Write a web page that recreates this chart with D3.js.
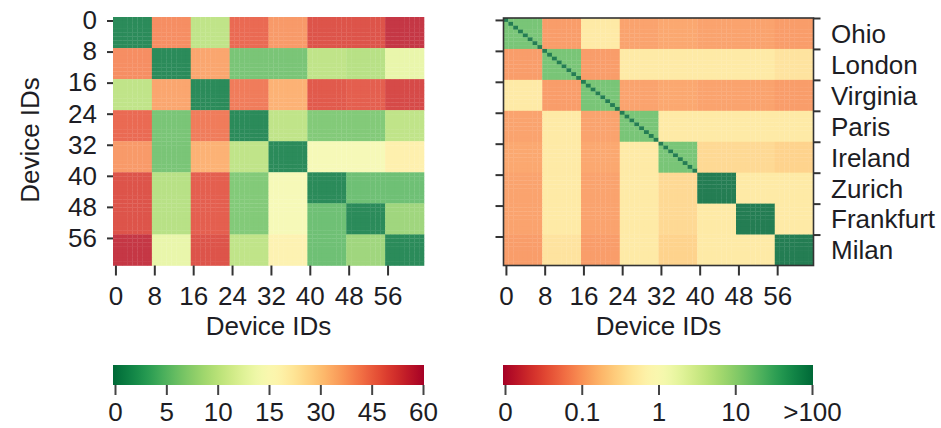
<!DOCTYPE html>
<html>
<head>
<meta charset="utf-8">
<script src="https://cdn.jsdelivr.net/npm/d3@7"></script>
<style>
  body { margin: 0; background: #fff; }
  svg text { font-family: "Liberation Sans", Arial, sans-serif; fill: #1d1d24; }
</style>
</head>
<body>
<div id="chart"></div>
<script>
// regions, 8 devices each
const regions = ["Ohio", "London", "Virginia", "Paris", "Ireland", "Zurich", "Frankfurt", "Milan"];
const devicesPerRegion = 8;
const deviceTicks = [0, 8, 16, 24, 32, 40, 48, 56];

// left panel: latency between regions (ms)
const latency = [
  [1, 40, 10, 46, 38, 50, 50, 56],
  [40, 1, 36, 6, 6, 10, 9.5, 13],
  [10, 36, 1, 43, 34, 49, 48, 52],
  [46, 6, 43, 1, 10, 6.5, 6.5, 10],
  [38, 6, 34, 10, 1, 14.5, 14.5, 20],
  [50, 9.5, 48, 6.5, 14.5, 1, 5.5, 5.5],
  [50, 9.5, 48, 6.5, 14.5, 5.5, 1, 8],
  [56, 13, 50, 10, 19, 5.5, 8, 1]
];

// right panel: bandwidth between regions (log scale), device to itself
const bandwidth = [
  [16, 0.1, 0.5, 0.11, 0.12, 0.11, 0.11, 0.1],
  [0.1, 16, 0.1, 0.5, 0.5, 0.5, 0.5, 0.42],
  [0.5, 0.1, 16, 0.11, 0.12, 0.11, 0.11, 0.1],
  [0.11, 0.5, 0.11, 16, 0.5, 0.5, 0.5, 0.5],
  [0.12, 0.5, 0.12, 0.5, 16, 0.32, 0.32, 0.28],
  [0.11, 0.5, 0.11, 0.5, 0.32, 200, 0.5, 0.5],
  [0.11, 0.5, 0.11, 0.5, 0.32, 0.5, 200, 0.5],
  [0.1, 0.42, 0.1, 0.5, 0.28, 0.5, 0.5, 200]
];
const selfBandwidth = 200;

const latTicks = [0, 5, 10, 15, 30, 45, 60];
const bwTicks = [0.01, 0.1, 1, 10, 100];
const bwTickLabels = ["0", "0.1", "1", "10", ">100"];

const W = 941, H = 428;
const FS = 26;
const nDev = regions.length * devicesPerRegion;

const svg = d3.select("#chart").append("svg")
  .attr("width", W).attr("height", H);

// colour helpers
const latPos = d3.scaleLinear().domain(latTicks).range(latTicks.map((d, i) => i / (latTicks.length - 1))).clamp(true);
const bwPos = d3.scaleLog().domain([bwTicks[0], bwTicks[bwTicks.length - 1]]).range([0, 1]).clamp(true);
const latColor = v => d3.interpolateRdYlGn(1 - latPos(v));
const bwColor = v => d3.interpolateRdYlGn(bwPos(v));
const soften = c => d3.interpolateRgb("#ffffff", c)(0.86);

// build device x device cells from region matrix
function cells(matrix, selfVal) {
  const out = [];
  for (let i = 0; i < nDev; i++) {
    for (let j = 0; j < nDev; j++) {
      const ri = Math.floor(i / devicesPerRegion), rj = Math.floor(j / devicesPerRegion);
      let v = matrix[ri][rj];
      if (i === j && selfVal != null) v = selfVal;
      out.push({ i, j, v });
    }
  }
  return out;
}

function heatmap(opts) {
  const x = d3.scaleLinear().domain([0, nDev]).range([opts.x0, opts.x1]);
  const y = d3.scaleLinear().domain([0, nDev]).range([opts.y0, opts.y1]);
  const g = svg.append("g");

  g.append("g").selectAll("rect")
    .data(cells(opts.matrix, opts.self))
    .enter().append("rect")
    .attr("x", d => x(d.j))
    .attr("y", d => y(d.i))
    .attr("width", x(1) - x(0) + 0.3)
    .attr("height", y(1) - y(0) + 0.3)
    .attr("fill", d => soften(opts.color(d.v)));

  if (opts.frame) {
    g.append("rect")
      .attr("x", opts.x0).attr("y", opts.y0)
      .attr("width", opts.x1 - opts.x0).attr("height", opts.y1 - opts.y0)
      .attr("fill", "none").attr("stroke", "#333").attr("stroke-width", 1.6);
  }

  // bottom axis
  const xa = g.append("g")
    .attr("transform", `translate(0,${opts.y1})`)
    .call(d3.axisBottom(x).tickValues(deviceTicks.map(d => d + 0.5))
      .tickFormat(d => Math.floor(d)).tickSize(10).tickPadding(11));
  styleAxis(xa);

  // left axis
  const ya = g.append("g")
    .attr("transform", `translate(${opts.x0},0)`)
    .call(d3.axisLeft(y).tickValues(deviceTicks.map(d => d + opts.yOff))
      .tickFormat(d => opts.yLabels ? Math.floor(d) : "").tickSize(opts.yTick).tickPadding(10));
  styleAxis(ya);

  g.append("text")
    .attr("x", (opts.x0 + opts.x1) / 2).attr("y", 335)
    .attr("text-anchor", "middle").attr("font-size", FS)
    .text("Device IDs");

  return { x, y, g };
}

function styleAxis(a) {
  a.select(".domain").remove();
  a.selectAll("line").attr("stroke", "#333").attr("stroke-width", 2);
  a.selectAll("text").attr("font-size", FS).attr("fill", "#1d1d24");
}

heatmap({ x0: 113, x1: 424, y0: 17, y1: 265.5, matrix: latency, self: null,
  color: latColor, frame: false, yLabels: true, yOff: 0.9, yTick: 6 });

const right = heatmap({ x0: 503.5, x1: 813.5, y0: 18, y1: 265.5, matrix: bandwidth, self: selfBandwidth,
  color: bwColor, frame: true, yLabels: false, yOff: 0.5, yTick: 8 });

// right side region axis
const ra = right.g.append("g")
  .attr("transform", `translate(813.5,0)`)
  .call(d3.axisRight(right.y).tickValues(deviceTicks).tickFormat("").tickSize(7));
styleAxis(ra);
right.g.append("g").selectAll("text")
  .data(regions).enter().append("text")
  .attr("x", 831)
  .attr("y", (d, i) => right.y(i * devicesPerRegion + devicesPerRegion / 2))
  .attr("dy", "0.36em")
  .attr("font-size", FS)
  .text(d => d);

// y label
svg.append("text")
  .attr("transform", "translate(39,140) rotate(-90)")
  .attr("text-anchor", "middle").attr("font-size", FS)
  .text("Device IDs");

// colour bars
const defs = svg.append("defs");
function colorbar(id, x0, x1, colorAt, labels) {
  const grad = defs.append("linearGradient").attr("id", id)
    .attr("x1", "0%").attr("x2", "100%").attr("y1", "0%").attr("y2", "0%");
  d3.range(0, 1.0001, 0.02).forEach(t => {
    grad.append("stop").attr("offset", (t * 100) + "%").attr("stop-color", colorAt(t));
  });
  svg.append("rect")
    .attr("x", x0).attr("y", 365).attr("width", x1 - x0).attr("height", 20)
    .attr("fill", `url(#${id})`);
  const s = d3.scaleLinear().domain([0, labels.length - 1]).range([x0 + 2, x1 - 1]);
  const a = svg.append("g").attr("transform", "translate(0,385)")
    .call(d3.axisBottom(s).tickValues(d3.range(labels.length))
      .tickFormat(i => labels[i]).tickSize(10).tickPadding(8));
  a.select(".domain").remove();
  a.selectAll("line").attr("stroke", "#444").attr("stroke-width", 2);
  a.selectAll("text").attr("font-size", FS).attr("fill", "#1d1d24");
}
colorbar("gLat", 113, 424, t => d3.interpolateRdYlGn(1 - t), latTicks.map(String));
colorbar("gBw", 503, 813, t => d3.interpolateRdYlGn(t), bwTickLabels);
</script>
</body>
</html>
